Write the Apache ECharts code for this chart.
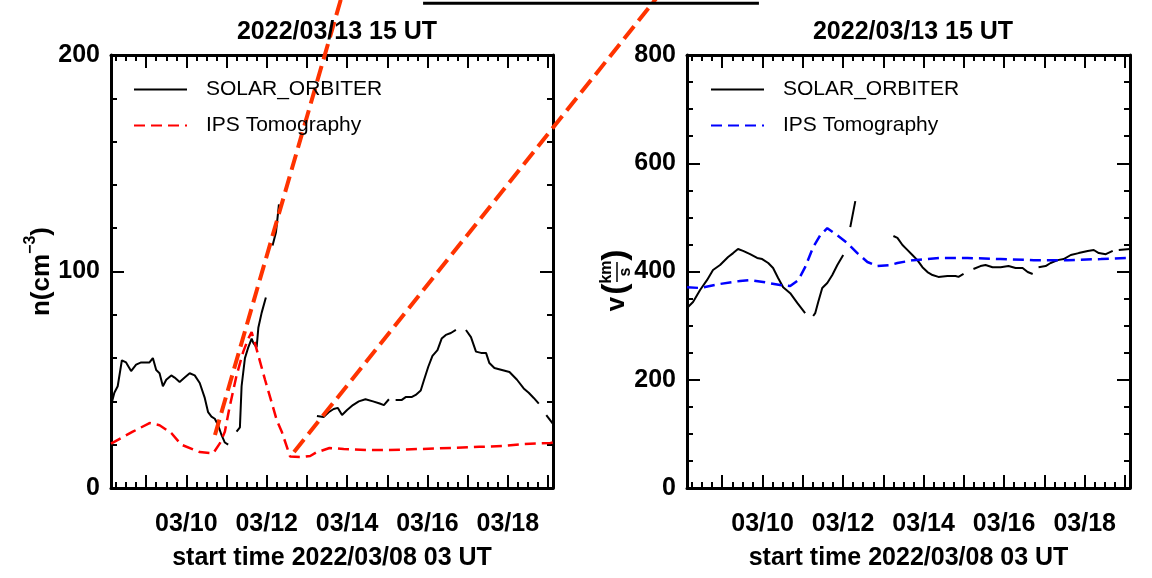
<!DOCTYPE html>
<html><head><meta charset="utf-8">
<script src="https://cdn.jsdelivr.net/npm/echarts@6/dist/echarts.min.js"></script>
<style>html,body{margin:0;padding:0;background:#fff}#c{width:1152px;height:578px}</style>
</head><body><div id="c"></div>
<script>
const FONT = '"Liberation Sans", Arial, sans-serif';
const titleText = '2022/03/13 15 UT';
const xAxisName = 'start time 2022/03/08 03 UT';
const seriesNames = ['SOLAR_ORBITER', 'IPS Tomography'];
// time: hours since 2022/03/08 00 UT
const tStart = 3, tEnd = 267;
const dateLabels = ['03/10', '03/12', '03/14', '03/16', '03/18'];

// density (cm^-3)
const soDensity = [
 [3,38],[5,44],[7,47],[9.5,59],[12,58],[15,54],[18,57],[21,58],[26,58],[28,60],[30,54.5],[32,53],[34,47],[36,50],[39,52],[41,51],[44,49],[47,51],[50,53],[53,52],[56,48.5],[59,41.6],[61,35],[63,33],[65,32],[67,29],[69,24.5],[71,21],[73,20],
 [75.5,null],
 [78,26],[80,28],[81,47],[83,60],[85,65],[87,69],[88,67],[90,65],[91,74],[93,81],[95.5,88],
 [97.5,null],
 [99.5,112],[101.5,118],[102.5,125],[103.3,131],
 [115,null],
 [126,33.3],[130,32.8],[133,35],[136,36.5],[138.5,37],[141,33.7],[144,36],[147.5,38.3],[151,40],[155,41],[159.5,40],[163.5,39],[166,38.3],[169,41],
 [171,null],
 [173,40.6],[176.5,40.6],[179,42],[182.5,42],[185,43],[188,45],[190,50],[192.5,56],[195,61],[198,63.7],[200.5,69],[203,70.7],[206,71.6],[209,73],
 [212,null],
 [215,73],[218,69.7],[221,63],[224,62.4],[227,62.4],[229,57.7],[232,55.4],[236.5,54.5],[241,53.6],[245.5,50],[249.5,46],[252.5,44],[255.5,41.6],[258.5,39],
 [261,null],
 [263,33.7],[267,29.6]
];
const ipsDensity = [
 [3,20.5],[10,23.5],[16,26],[26,30],[32,29],[39,25.4],[45,20],[56,16.6],[64,16],[68,20.6],[71,26],[74,38],[78,52],[82,63],[85,69],[87,72],[89,66.8],[95,50],[102,31.4],[105,26],[110,14.5],[111,13.9],[117.5,14.3],[122,14.8],[126,16.6],[128,17],[133.5,18.5],[142,18],[156,17.5],[168,17.5],[187,18],[207,18.5],[223,19],[237,19.4],[249.5,20.3],[265.5,20.8],[267,21]
];
// stray strokes that run outside the left panel in the reference (hours, cm^-3)
const strayRed = [[65.1,24.5],[150.5,253],[130,null],[112.3,16.6],[356.4,253]];
const strayBlack = [[189.4,223.9],[390,223.9]];

// velocity (km/s)
const soVelocity = [
 [3,332.6],[6.6,343.6],[10.8,365.8],[14.9,384],[18.5,402.8],[22.7,412],[27.5,426.8],[30.5,434],[33.4,441.6],[36.4,438],[40.6,432],[44.8,425],[47.8,423],[51.4,415.7],[54.3,406.5],[57.3,388],[60.3,371],[64.5,360],[68.7,342],[73.4,323],
 [76,null],
 [78.2,317.8],[79.4,323],[81.2,343.6],[83.6,369.5],[86.6,378.8],[89.6,393.5],[92.6,412],[96.1,430.5],
 [98,null],
 [100.3,482],[103.3,530],
 [115,null],
 [126,465.6],[128.4,462],[131.4,449],[134.3,440],[137.3,430.5],[140.3,421],[143.3,408],[146.3,399],[149.3,393.5],[152.8,390],[158.2,391.7],[163,391.7],[164.8,390],[167.8,395.4],
 [171,null],
 [173.7,404.6],[177.9,410],[180.9,412],[185.1,408],[189.9,408],[194.6,410],[198.8,406.5],[203,406.5],[206,399],[209,395.4],
 [211,null],
 [212.5,408],[216.7,410],[219.7,415.7],[223.9,421],[227.5,423],[231.7,430.5],[236.4,434],[241.8,438],[245.4,439.7],[248.4,434],[252.6,432],[256.7,438],
 [258.5,null],
 [260.3,439.7],[267,441.6]
];
const ipsVelocity = [
 [3,371],[10.8,369.5],[22.7,377],[34.6,382.5],[40.6,384],[48.4,380.6],[58.5,375],[64.5,373],[69.3,384],[73.4,408],[78.2,445],[82.4,467],[86.6,480],[92.6,467],[98.5,452.7],[104.5,434],[110.5,417.6],[116.4,410],[124.2,412],[128.4,415.7],[137.9,421],[154,425],[170.2,425],[189.9,423],[209.6,421],[229.9,421],[249.6,423],[267,425]
];

// tick positions (hours)
const labelHours = dateLabels.map(s => (parseInt(s.slice(3), 10) - 8) * 24);
const dayTicks = [];
for (let h = 24; h <= tEnd; h += 24) dayTicks.push(h);
const minorTicks = [];
for (let h = 6; h <= tEnd; h += 6) if (h % 24) minorTicks.push(h);

// layout
const W = 1152, H = 578;
const G1 = {left: 111, right: 599, top: 55, bottom: 90};
const G2 = {left: 687, right: 22, top: 55, bottom: 90};
// overlay grid over the whole page sharing the left panel's scales (for the stray strokes)
const pxPerHour = (W - G1.left - G1.right) / (tEnd - tStart);
const pxPerUnit = (H - G1.top - G1.bottom) / 200;
const ovX = {min: tStart - G1.left / pxPerHour, max: tStart + (W - G1.left) / pxPerHour};
const ovY = {min: -G1.bottom / pxPerUnit, max: (H - G1.bottom) / pxPerUnit};

const BLACK = '#000';
const tickStyle = {color: BLACK, width: 2};
const lineAxis = {show: true, onZero: false, lineStyle: {color: BLACK, width: 3}};
const bigFont = {fontFamily: FONT, fontSize: 25, fontWeight: 'bold', color: BLACK};

function makeXAxes(gi) {
  const base = {type: 'value', gridIndex: gi, min: tStart, max: tEnd, splitLine: {show: false}, minorTick: {show: false}};
  return [
    Object.assign({}, base, {position: 'bottom', axisLine: lineAxis,
      axisTick: {show: true, inside: true, length: 13, lineStyle: tickStyle, customValues: dayTicks},
      axisLabel: Object.assign({show: true, margin: 24, customValues: labelHours,
        formatter: v => dateLabels[labelHours.indexOf(v)] || ''}, bigFont),
      name: xAxisName, nameLocation: 'middle', nameGap: 58, nameTextStyle: bigFont}),
    Object.assign({}, base, {position: 'bottom', axisLine: {show: false, onZero: false},
      axisTick: {show: true, inside: true, length: 6, lineStyle: tickStyle, customValues: minorTicks},
      axisLabel: {show: false}}),
    Object.assign({}, base, {position: 'top', axisLine: lineAxis,
      axisTick: {show: true, inside: true, length: 13, lineStyle: tickStyle, customValues: dayTicks},
      axisLabel: {show: false}}),
    Object.assign({}, base, {position: 'top', axisLine: {show: false, onZero: false},
      axisTick: {show: true, inside: true, length: 6, lineStyle: tickStyle, customValues: minorTicks},
      axisLabel: {show: false}})
  ];
}
function makeYAxes(gi, max, interval, split, nameOpt) {
  const base = {type: 'value', gridIndex: gi, min: 0, max: max, interval: interval, splitLine: {show: false},
    axisLine: lineAxis,
    axisTick: {show: true, inside: true, length: 13, lineStyle: tickStyle},
    minorTick: {show: true, splitNumber: split, length: 6, lineStyle: tickStyle}};
  return [
    Object.assign({}, base, {position: 'left', axisLabel: Object.assign({show: true, margin: 11}, bigFont)}, nameOpt || {}),
    Object.assign({}, base, {position: 'right', axisLabel: {show: false}})
  ];
}

function lineSeries(name, xi, yi, data, color, width, dash, extra) {
  return Object.assign({type: 'line', name: name, xAxisIndex: xi, yAxisIndex: yi, data: data,
    symbol: 'none', showSymbol: false, connectNulls: false, silent: true,
    itemStyle: {color: color}, lineStyle: {color: color, width: width, type: dash}}, extra || {});
}

const legendBase = {orient: 'vertical', itemWidth: 53, itemHeight: 14, itemGap: 15, selectedMode: false, padding: 0,
  itemStyle: {opacity: 0},
  textStyle: {fontFamily: FONT, fontSize: 21, color: BLACK, padding: [0, 0, 0, 14]},
  formatter: n => n.replace(' (v)', '')};

const txt = (text, x, y, size) => ({type: 'text', x: x, y: y, style: {text: text, font: 'bold ' + size + 'px ' + FONT, fill: BLACK,
  textAlign: 'center', textVerticalAlign: 'middle', align: 'center', verticalAlign: 'middle'}});

const chart = echarts.init(document.getElementById('c'), null, {renderer: 'canvas'});
chart.setOption({
  animation: false,
  backgroundColor: '#fff',
  title: [
    {text: titleText, left: 332, top: 15, textAlign: 'center', textStyle: bigFont},
    {text: titleText, left: 908, top: 15, textAlign: 'center', textStyle: bigFont}
  ],
  legend: [
    Object.assign({}, legendBase, {data: seriesNames, left: 133, top: 79}),
    Object.assign({}, legendBase, {data: seriesNames.map(n => n + ' (v)'), left: 710, top: 79})
  ],
  grid: [
    G1, G2,
    {left: 0, right: 0, top: 0, bottom: 0}
  ],
  xAxis: makeXAxes(0).concat(makeXAxes(1)).concat([
    {type: 'value', gridIndex: 2, min: ovX.min, max: ovX.max, show: false}
  ]),
  yAxis: makeYAxes(0, 200, 100, 5, {
      name: '{a|n(cm}{s|−3}{a|)}', nameLocation: 'middle', nameRotate: 90, nameGap: 50,
      nameTextStyle: {rich: {
        a: {fontFamily: FONT, fontSize: 26, fontWeight: 'bold', color: BLACK, lineHeight: 38},
        s: {fontFamily: FONT, fontSize: 16, fontWeight: 'bold', color: BLACK, verticalAlign: 'top', lineHeight: 18}
      }}})
    .concat(makeYAxes(1, 800, 200, 4))
    .concat([{type: 'value', gridIndex: 2, min: ovY.min, max: ovY.max, show: false}]),
  graphic: [{
    type: 'group', x: 616, y: 272, rotation: Math.PI / 2, silent: true,
    children: [
      txt('v', -32, 1, 26),
      txt('(', -17, 0, 34),
      txt('km', 0, -9, 16),
      {type: 'line', shape: {x1: -10, y1: 1, x2: 10, y2: 1}, style: {stroke: BLACK, lineWidth: 1.5}},
      txt('s', 0, 10, 16),
      txt(')', 17, 0, 34)
    ]
  }],
  series: [
    lineSeries(seriesNames[0], 0, 0, soDensity, BLACK, 2, 'solid'),
    lineSeries(seriesNames[1], 0, 0, ipsDensity, '#ff0000', 2.5, [11, 6]),
    lineSeries('stray1', 8, 4, strayRed, '#ff3300', 4, [16, 7], {clip: false}),
    lineSeries('stray2', 8, 4, strayBlack, BLACK, 3, 'solid', {clip: false}),
    lineSeries(seriesNames[0] + ' (v)', 4, 2, soVelocity, BLACK, 2, 'solid'),
    lineSeries(seriesNames[1] + ' (v)', 4, 2, ipsVelocity, '#0000ff', 2.5, [11, 6])
  ]
});
</script></body></html>
